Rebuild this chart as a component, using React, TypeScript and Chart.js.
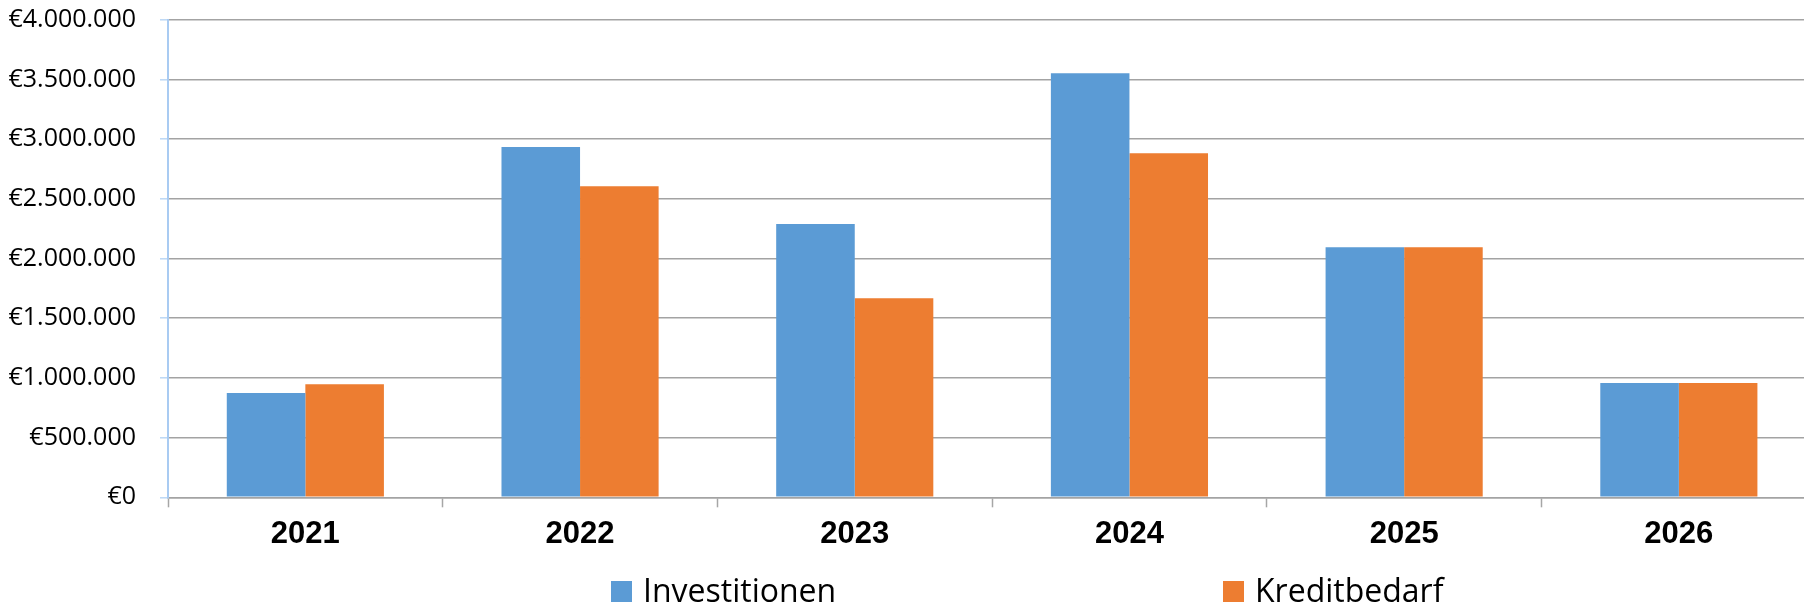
import React, { useEffect, useRef } from "react";
import { Chart, registerables } from "chart.js";

Chart.register(...registerables);

const YEARS = ["2021", "2022", "2023", "2024", "2025", "2026"];
const INVESTITIONEN = [873000, 2934000, 2289000, 3551000, 2094000, 957000];
const KREDITBEDARF = [946000, 2605000, 1667000, 2881000, 2094000, 957000];
const SERIES_NAMES = ["Investitionen", "Kreditbedarf"];
const SERIES_COLORS = ["#5B9BD5", "#ED7D31"];
const Y_MIN = 0;
const Y_MAX = 4000000;
const Y_STEP = 500000;

const fmtEuro = (v: number) =>
  "€" + String(Math.round(v)).replace(/\B(?=(\d{3})+(?!\d))/g, ".");

const LEGEND_BOX_X = [611, 1223];

const legendPlugin = {
  id: "customLegend",
  afterDraw(chart: any) {
    const ctx = chart.ctx;
    ctx.save();
    const box = 21;
    const boxTop = 581;
    chart.data.datasets.forEach((ds: any, i: number) => {
      const x = LEGEND_BOX_X[i];
      ctx.fillStyle = ds.backgroundColor;
      ctx.fillRect(x, boxTop, box, box);
      ctx.fillStyle = "#000";
      ctx.font = "32px 'Open Sans'";
      ctx.textBaseline = "alphabetic";
      ctx.textAlign = "left";
      ctx.fillText(ds.label, x + box + 11, boxTop + box);
    });
    ctx.restore();
  },
};

export default function App() {
  const ref = useRef<HTMLCanvasElement | null>(null);
  useEffect(() => {
    document.body.style.overflow = "hidden";
    if (!ref.current) return;
    const chart = new Chart(ref.current, {
      type: "bar",
      data: {
        labels: YEARS,
        datasets: [
          {
            label: SERIES_NAMES[0],
            data: INVESTITIONEN,
            backgroundColor: SERIES_COLORS[0],
            borderWidth: 0,
            categoryPercentage: 0.572,
            barPercentage: 1,
          },
          {
            label: SERIES_NAMES[1],
            data: KREDITBEDARF,
            backgroundColor: SERIES_COLORS[1],
            borderWidth: 0,
            categoryPercentage: 0.572,
            barPercentage: 1,
          },
        ],
      },
      options: {
        animation: false,
        responsive: true,
        maintainAspectRatio: false,
        layout: { padding: { top: 19.7, right: 13.8, left: 0, bottom: 0 } },
        plugins: {
          legend: { display: false },
          tooltip: { enabled: false },
        },
        scales: {
          x: {
            afterFit: (s: any) => {
              s.height = 107.7;
              s.paddingLeft = 0;
              s.paddingRight = 0;
            },
            grid: {
              display: true,
              drawOnChartArea: false,
              drawTicks: true,
              tickLength: 10,
              tickColor: "#a6a6a6",
              tickWidth: 1.5,
              offset: true,
            },
            border: { display: true, color: "#a3a3a3", width: 1.5 },
            ticks: {
              color: "#000",
              padding: 9,
              font: { family: "'Liberation Sans'", size: 31, weight: "bold" },
            },
          },
          y: {
            min: Y_MIN,
            max: Y_MAX,
            afterFit: (s: any) => {
              s.width = 168;
              s.paddingTop = 0;
              s.paddingBottom = 0;
            },
            grid: {
              color: "#a3a3a3",
              lineWidth: 1.6,
              drawTicks: true,
              tickLength: 8,
              tickColor: "#bcd7f5",
              tickWidth: 1.5,
            },
            border: { display: true, color: "#a9cbf2", width: 2 },
            ticks: {
              stepSize: Y_STEP,
              color: "#000",
              padding: 24,
              font: { family: "'Open Sans'", size: 25 },
              callback: (v: any) => fmtEuro(Number(v)),
            },
          },
        },
      },
      plugins: [legendPlugin],
    });
    return () => chart.destroy();
  }, []);

  return (
    <div
      style={{
        position: "fixed",
        left: 0,
        top: 0,
        width: "100vw",
        height: "100vh",
        overflow: "hidden",
        background: "#fff",
      }}
    >
      <div style={{ position: "absolute", left: 0, top: 0, width: 1830, height: 605 }}>
        <canvas ref={ref} />
      </div>
    </div>
  );
}
